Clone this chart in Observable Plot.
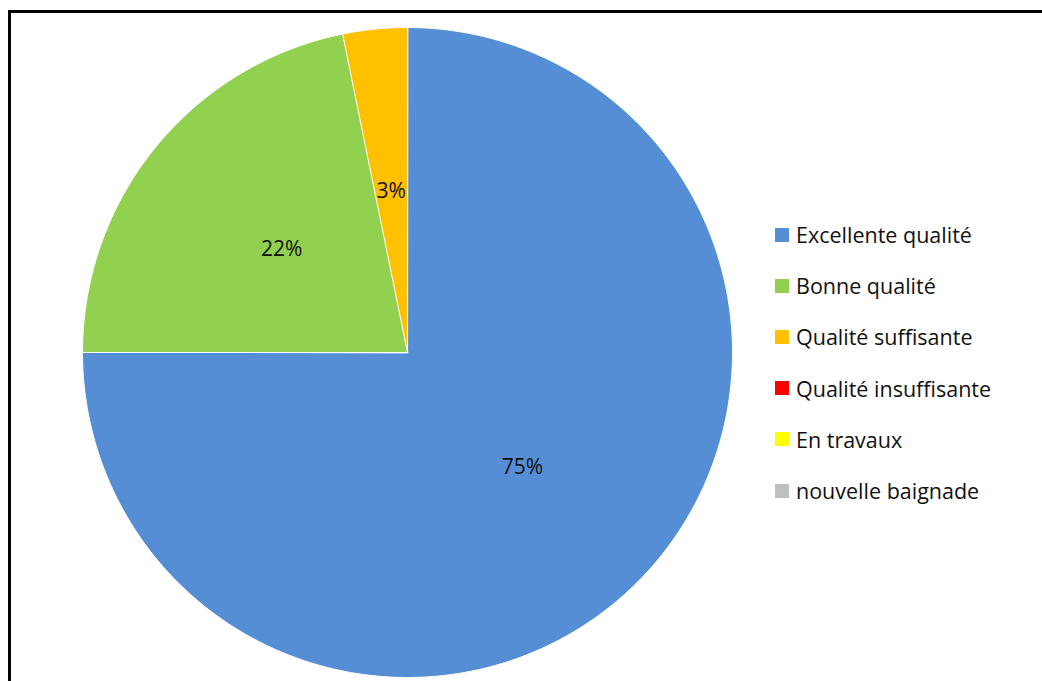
<!DOCTYPE html>
<html>
<head>
<meta charset="utf-8">
<script src="https://cdn.jsdelivr.net/npm/d3@7"></script>
<script src="https://cdn.jsdelivr.net/npm/@observablehq/plot@0.6"></script>
<style>
  html, body { margin: 0; padding: 0; background: #fff; }
  #wrap { position: relative; width: 1042px; height: 681px; overflow: hidden; font-family: "Open Sans", sans-serif; }
  #frame { position: absolute; left: 8px; top: 10px; width: 1100px; height: 700px; border: 3px solid #000; box-sizing: border-box; pointer-events: none; }
  #chart { position: absolute; left: 0; top: 0; }
  #legend { position: absolute; left: 775px; top: 209px; }
  .item { display: flex; align-items: center; height: 51.2px; font-size: 21.5px; color: #111; }
  .sw { width: 14px; height: 14px; margin-right: 7px; }
</style>
</head>
<body>
<div id="wrap">
  <div id="chart"></div>
  <div id="legend"></div>
  <div id="frame"></div>
</div>
<script>
const categories = ["Excellente qualité", "Bonne qualité", "Qualité suffisante", "Qualité insuffisante", "En travaux", "nouvelle baignade"];
const values = [75, 21.8, 3.2, 0, 0, 0];
const colors = ["#558ED5", "#92D050", "#FFC000", "#FF0000", "#FFFF00", "#BFBFBF"];

const table = categories.map((c, i) => ({cat: c, value: values[i]}));
const total = d3.sum(values);
const arcs = d3.pie().sort(null).value(d => d.value)(table).filter(a => a.data.value > 0);

// polygon outline of each slice (angle measured clockwise from the top)
const pts = [];
for (const a of arcs) {
  pts.push({cat: a.data.cat, x: 0, y: 0});
  const n = Math.max(2, Math.ceil((a.endAngle - a.startAngle) / 0.01));
  for (let k = 0; k <= n; k++) {
    const t = a.startAngle + (a.endAngle - a.startAngle) * k / n;
    pts.push({cat: a.data.cat, x: Math.sin(t), y: Math.cos(t)});
  }
}
const labels = arcs.map(a => {
  const m = (a.startAngle + a.endAngle) / 2;
  return {cat: a.data.cat, x: 0.5 * Math.sin(m), y: 0.5 * Math.cos(m), text: Math.round(a.data.value / total * 100) + "%"};
});

const chart = Plot.plot({
  width: 1042,
  height: 681,
  margin: 0,
  x: {domain: [-1, 1], range: [82, 732], axis: null},
  y: {domain: [-1, 1], range: [677, 27], axis: null},
  color: {domain: categories, range: colors},
  style: {background: "transparent", fontFamily: "'Open Sans', sans-serif"},
  marks: [
    Plot.line(pts, {x: "x", y: "y", z: "cat", fill: "cat", stroke: "white", strokeWidth: 1, curve: "linear-closed"}),
    Plot.text(labels, {x: "x", y: "y", text: "text", fontSize: 21, fill: "#111"})
  ]
});
document.getElementById("chart").appendChild(chart);

const legend = document.getElementById("legend");
categories.forEach((c, i) => {
  const item = document.createElement("div");
  item.className = "item";
  const sw = document.createElement("div");
  sw.className = "sw";
  sw.style.background = colors[i];
  const tx = document.createElement("span");
  tx.textContent = c;
  item.appendChild(sw);
  item.appendChild(tx);
  legend.appendChild(item);
});
</script>
</body>
</html>
